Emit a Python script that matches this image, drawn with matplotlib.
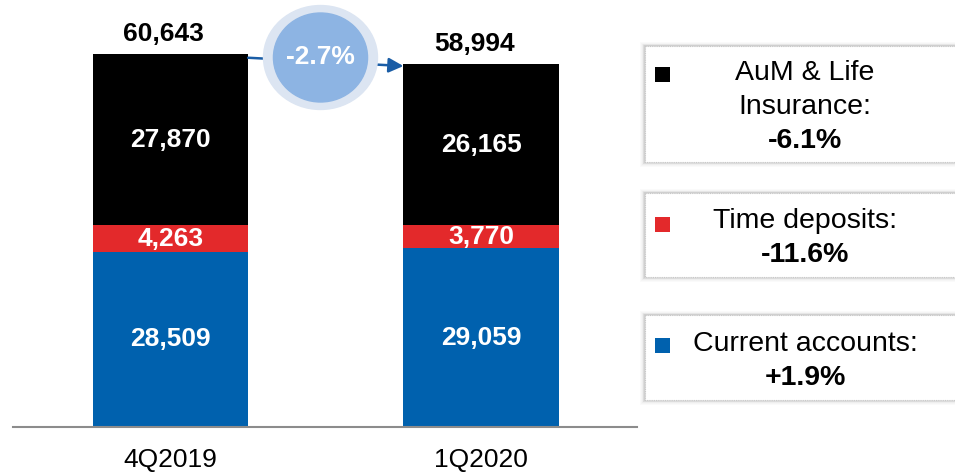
import numpy as np
import matplotlib.pyplot as plt
from matplotlib.patches import Rectangle, Ellipse

plt.rcParams['font.family'] = ['Liberation Sans', 'DejaVu Sans']

# Data
quarters = ['4Q2019', '1Q2020']
current_accounts = np.array([28509, 29059])
time_deposits = np.array([4263, 3770])
aum_life = np.array([27870, 26165])
totals = np.array([60643, 58994])  # as printed (rounded)
total_change = '-2.7%'

legend_names = ['AuM & Life\nInsurance:', 'Time deposits:', 'Current accounts:']
legend_changes = ['-6.1%', '-11.6%', '+1.9%']

blue = '#0061AE'
red = '#E3292B'
black = '#000000'

fig = plt.figure(figsize=(9.55, 4.73), dpi=100)
W, H = 955, 473
ax = fig.add_axes([13 / W, (H - 427) / H, (637 - 13) / W, 427 / H])

x = np.arange(len(quarters))
bw = 0.5
ax.bar(x, current_accounts, bw, color=blue, zorder=2)
ax.bar(x, time_deposits, bw, bottom=current_accounts, color=red, zorder=2)
ax.bar(x, aum_life, bw, bottom=current_accounts + time_deposits, color=black, zorder=2)

# segment labels
for i in range(len(x)):
    ax.text(x[i], current_accounts[i] / 2, f'{current_accounts[i]:,}', ha='center', va='center',
            color='white', fontsize=19, fontweight='bold', zorder=3)
    ax.text(x[i], current_accounts[i] + time_deposits[i] / 2, f'{time_deposits[i]:,}', ha='center',
            va='center', color='white', fontsize=19, fontweight='bold', zorder=3)
    ax.text(x[i], current_accounts[i] + time_deposits[i] + aum_life[i] / 2, f'{aum_life[i]:,}',
            ha='center', va='center', color='white', fontsize=19, fontweight='bold', zorder=3)
    ax.annotate(f'{totals[i]:,}', (x[i], totals[i]), xytext=(-5, 6), textcoords='offset points',
                ha='center', va='bottom', fontsize=19, fontweight='bold', zorder=3)

ax.set_xlim(-0.507, 1.502)
ax.set_ylim(0, 427 / 6.15 * 1000)
ax.set_xticks(x)
ax.set_xticklabels(quarters, fontsize=19)
ax.tick_params(axis='x', length=0, pad=15)
ax.set_yticks([])
for s in ['top', 'right', 'left']:
    ax.spines[s].set_visible(False)
ax.spines['bottom'].set_color('#8C8C8C')
ax.spines['bottom'].set_linewidth(1.5)

# growth arrow and bubble
ax.annotate('', xy=(x[1] - bw / 2, totals[1] - 300), xytext=(x[0] + bw / 2, totals[0] - 600),
            arrowprops=dict(arrowstyle='-|>', color='#1A5DA6', lw=1.8, mutation_scale=22,
                            shrinkA=0, shrinkB=0), zorder=4)
cy = (427 - 57.5) / 6.15 * 1000
ax.add_patch(Ellipse((0.483, cy), 0.367, 16900, color='#DCE5F2', zorder=5, clip_on=False))
ax.add_patch(Ellipse((0.483, cy), 0.303, 14470, color='#8DB4E3', zorder=6, clip_on=False))
ax.text(0.483, cy, total_change, ha='center', va='center', color='white', fontsize=19,
        fontweight='bold', zorder=7)

# legend boxes on the right
lax = fig.add_axes([0, 0, 1, 1], facecolor='none')
lax.set_xlim(0, W)
lax.set_ylim(H, 0)
lax.axis('off')

boxes = [(46, 162), (193, 277), (315, 400)]
colors = [black, red, blue]
marker_y = [75, 224, 345]
for (top, bot), c, my, name, chg in zip(boxes, colors, marker_y, legend_names, legend_changes):
    for k, a in zip(range(6, 0, -1), [0.03, 0.04, 0.05, 0.07, 0.09, 0.12]):
        lax.add_patch(Rectangle((645 - k * 0.8, top - k * 0.6), 330, bot - top + k * 1.4,
                                facecolor='#7F7F7F', edgecolor='none', alpha=a, zorder=1))
    lax.add_patch(Rectangle((645, top), 330, bot - top, facecolor='white', edgecolor='#C8C8C8',
                            lw=0.8, ls=(0, (1, 1)), zorder=2))
    lax.add_patch(Rectangle((655, my - 7.5), 15, 15, facecolor=c, edgecolor='none', zorder=3))
    nlines = name.count('\n') + 1
    lh = 34
    ytop = (top + bot) / 2 - lh * (nlines + 1) / 2 + lh / 2 + 3
    for j, line in enumerate(name.split('\n')):
        lax.text(805, ytop + j * lh, line, ha='center', va='center', fontsize=20.5, zorder=3)
    lax.text(805, ytop + nlines * lh, chg, ha='center', va='center', fontsize=20.5,
             fontweight='bold', zorder=3)

fig.savefig('out.png', dpi=100)
